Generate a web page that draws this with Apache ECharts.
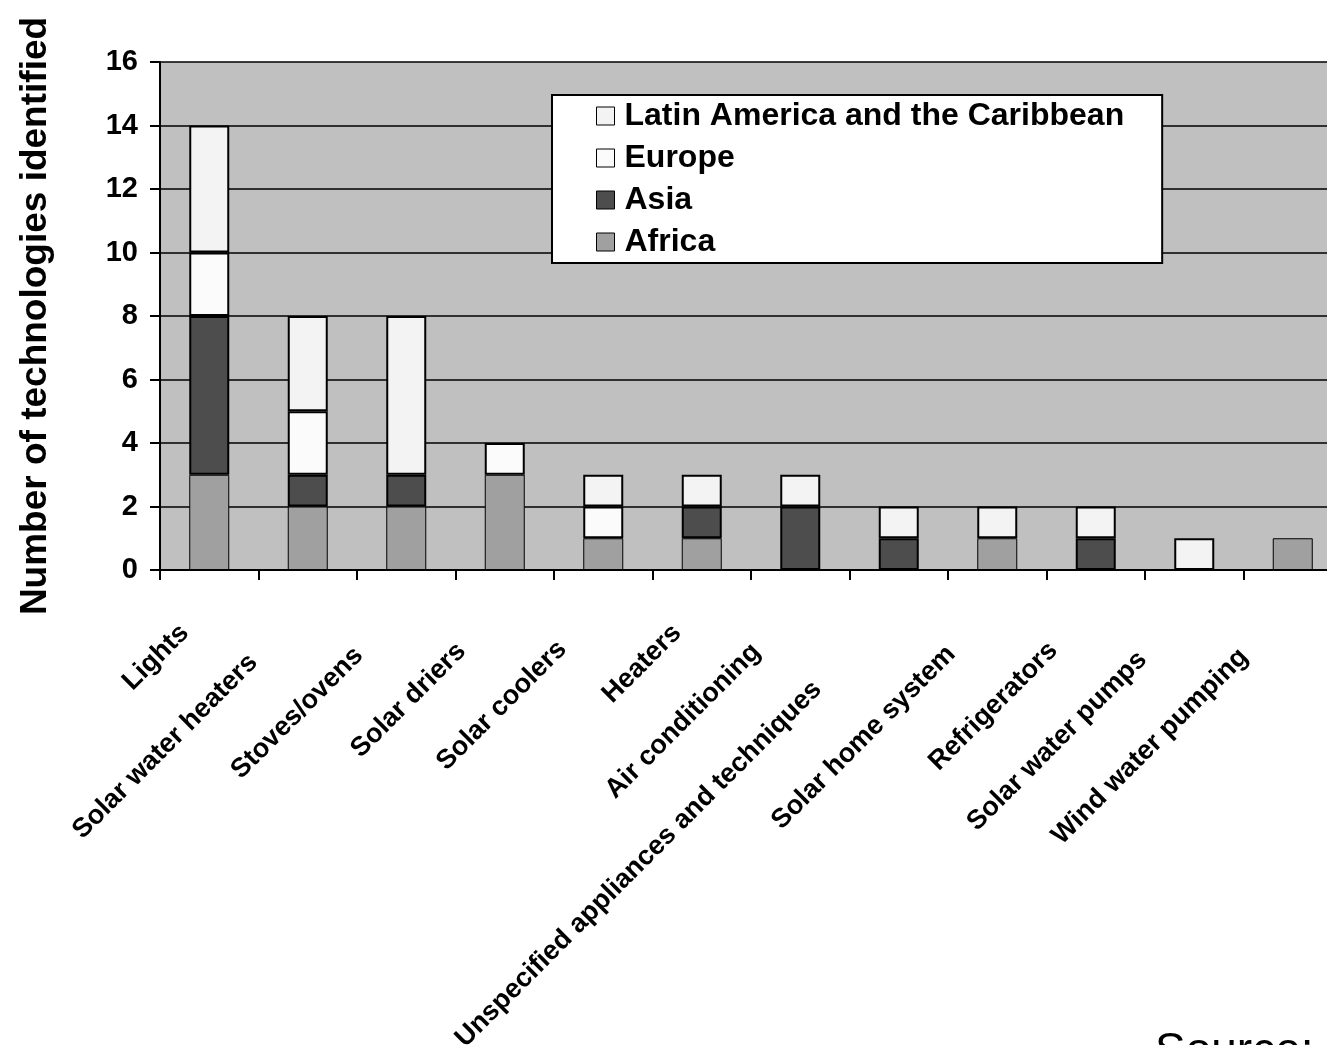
<!DOCTYPE html>
<html>
<head>
<meta charset="utf-8">
<script src="https://cdn.jsdelivr.net/npm/echarts@6/dist/echarts.min.js"></script>
<style>
  html, body { margin: 0; padding: 0; background: #ffffff; }
  #chart { width: 1327px; height: 1045px; }
</style>
</head>
<body>
<div id="chart"></div>
<script>
// Technology categories along the x axis
const categories = [
  'Lights', 'Solar water heaters', 'Stoves/ovens', 'Solar driers',
  'Solar coolers', 'Heaters', 'Air conditioning',
  'Unspecified appliances and techniques', 'Solar home system',
  'Refrigerators', 'Solar water pumps', 'Wind water pumping'
];

// Number of technologies identified per region
const africa = [3, 2, 2, 3, 1, 1, 0, 0, 1, 0, 0, 1];
const asia   = [5, 1, 1, 0, 0, 1, 2, 1, 0, 1, 0, 0];
const europe = [2, 2, 0, 1, 1, 0, 0, 0, 0, 0, 0, 0];
const latin  = [4, 3, 5, 0, 1, 1, 1, 1, 1, 1, 1, 0];

// Y-axis ticks
const yTicks = [0, 2, 4, 6, 8, 10, 12, 14, 16];

// Per-label shift back along the slanted text (px)
const labelPad = [35, 77, 67, 61, 58, 35, 62, 115, 65, 60, 73, 69];

const FONT = '"Liberation Sans", Arial, Helvetica, sans-serif';

const chart = echarts.init(document.getElementById('chart'), null, { renderer: 'canvas' });

function series(name, values, color, bw) {
  return {
    name: name,
    type: 'bar',
    stack: 'total',
    barWidth: 40,
    data: values.map(v => (v === 0 ? null : v)),
    itemStyle: { color: color, borderColor: '#000000', borderWidth: bw },
    emphasis: { disabled: true },
    animation: false
  };
}

chart.setOption({
  animation: false,
  backgroundColor: '#ffffff',
  textStyle: { fontFamily: FONT },
  grid: {
    left: 160, top: 62, width: 1182, height: 508,
    show: true, backgroundColor: '#c0c0c0', borderWidth: 0,
    containLabel: false,
    outerBoundsMode: 'none'
  },
  legend: {
    orient: 'vertical',
    left: 552, top: 95,
    data: ['Latin America and the Caribbean', 'Europe', 'Asia', 'Africa'],
    backgroundColor: '#ffffff',
    borderColor: '#000000',
    borderWidth: 2,
    borderRadius: 0,
    padding: [5, 38, 5, 44],
    itemGap: 10,
    itemWidth: 18,
    itemHeight: 18,
    icon: 'rect',
    selectedMode: false,
    textStyle: { fontFamily: FONT, fontWeight: 'bold', fontSize: 32, color: '#000000', padding: [0, 0, 0, 5] },
    itemStyle: { borderColor: '#000000', borderWidth: 1 }
  },
  xAxis: {
    type: 'category',
    data: categories.map((c, i) => ({ value: c, textStyle: { padding: [0, labelPad[i], 0, 0] } })),
    boundaryGap: true,
    axisLine: { show: true, lineStyle: { color: '#000000', width: 2 } },
    axisTick: { show: true, alignWithLabel: false, interval: 0, length: 10, lineStyle: { color: '#000000', width: 2 } },
    axisLabel: {
      interval: 0, rotate: 45, margin: 34,
      fontFamily: FONT, fontWeight: 'bold', fontSize: 27, color: '#000000',
      hideOverlap: false
    },
    splitLine: { show: false }
  },
  yAxis: {
    type: 'value',
    min: yTicks[0], max: yTicks[yTicks.length - 1], interval: 2,
    name: 'Number of technologies identified',
    nameLocation: 'middle',
    nameGap: 106,
    nameTextStyle: { fontFamily: FONT, fontWeight: 'bold', fontSize: 37, color: '#000000' },
    axisLine: { show: true, lineStyle: { color: '#000000', width: 2 } },
    axisTick: { show: true, inside: false, length: 10, lineStyle: { color: '#000000', width: 2 } },
    axisLabel: {
      margin: 22,
      fontFamily: FONT, fontWeight: 'bold', fontSize: 29, color: '#000000',
      customValues: yTicks
    },
    splitLine: { show: true, lineStyle: { color: '#000000', width: 1.5 } }
  },
  series: [
    series('Africa', africa, '#a0a0a0', 1),
    series('Asia', asia, '#4d4d4d', 2),
    series('Europe', europe, '#fbfbfb', 2),
    series('Latin America and the Caribbean', latin, '#f3f3f3', 2)
  ],
  graphic: [{
    type: 'text',
    left: 1155, top: 1029,
    silent: true,
    style: { text: 'Source:', fontFamily: FONT, fontSize: 46, fill: '#000000' }
  }]
});
</script>
</body>
</html>
